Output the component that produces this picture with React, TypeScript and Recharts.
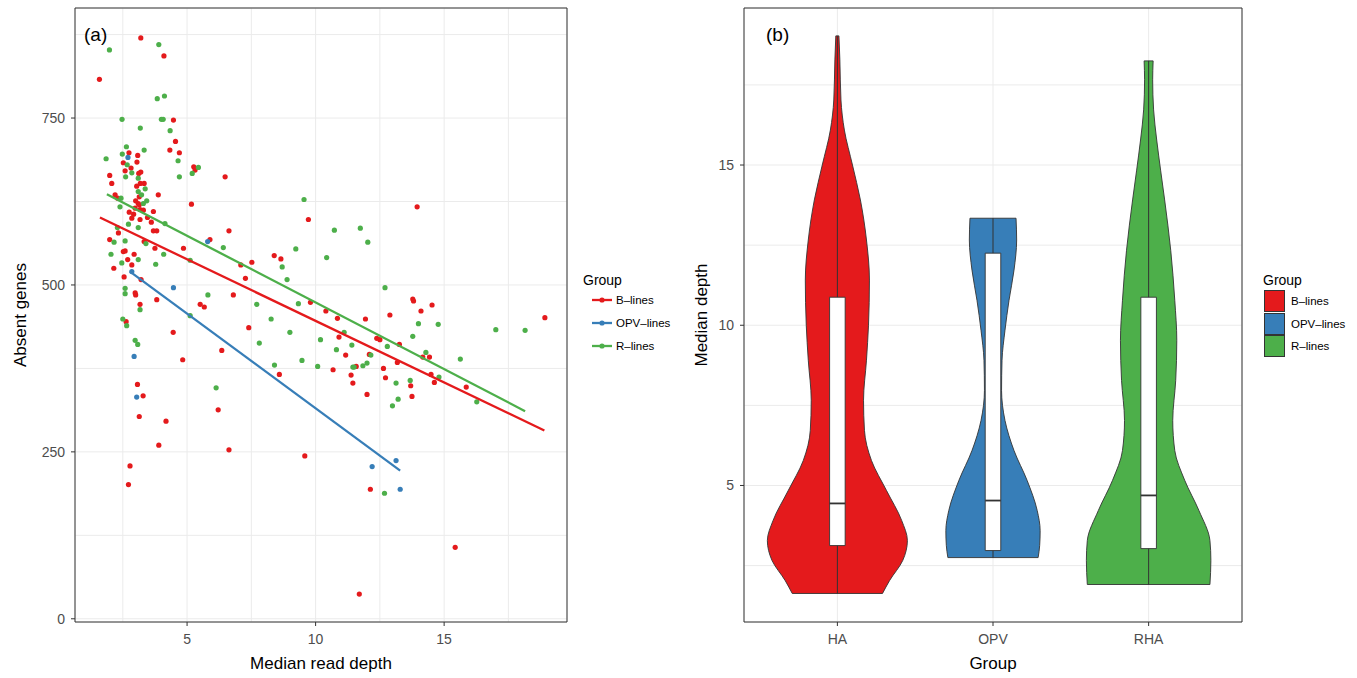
import React from "react";
import {
  ScatterChart,
  Scatter,
  ComposedChart,
  Area,
  XAxis,
  YAxis,
  CartesianGrid,
  ReferenceArea,
  ReferenceLine,
  Label,
} from "recharts";

const FONT = '"Liberation Sans", Arial, Helvetica, sans-serif';
const RED = "#E41A1C";
const BLUE = "#377EB8";
const GREEN = "#4DAF4A";
const INK = "#333333";
const TICK_TEXT = "#4D4D4D";
const GRID = "#EBEBEB";

// ---------- panel (a): absent genes vs median read depth ----------
// [median read depth, absent genes]
const bLines: [number, number][] = [
  [1.59, 808], [3.2, 870], [4.1, 843], [4.47, 747], [4.55, 715], [4.33, 702],
  [4.7, 698], [2.74, 698], [3.08, 694], [2.52, 683], [3.05, 684], [2.82, 675],
  [2.59, 671], [3.2, 669], [3.12, 667], [5.26, 677], [5.31, 672], [1.99, 664],
  [2.07, 652], [3.18, 652], [3.04, 648], [3.33, 652], [3.14, 632], [3.88, 635],
  [2.2, 635], [2.3, 630], [3.0, 626], [3.1, 622], [3.14, 620], [5.17, 621],
  [2.98, 615], [3.17, 613], [3.3, 612], [2.75, 609], [3.69, 610], [2.92, 606],
  [3.46, 601], [2.85, 600], [3.17, 598], [3.61, 594], [3.69, 581], [3.82, 581],
  [2.33, 578], [1.99, 568], [3.33, 565], [3.75, 555], [4.86, 555], [5.89, 568],
  [2.52, 550], [2.59, 551], [2.94, 546], [2.69, 538], [2.85, 530], [2.15, 525],
  [2.55, 512], [3.21, 508], [2.98, 488], [3.0, 485], [3.82, 478], [3.17, 471],
  [5.51, 471], [5.67, 467], [2.63, 445], [4.46, 429], [6.35, 402], [4.83, 388],
  [3.07, 351], [3.29, 334], [6.21, 313], [3.14, 303], [4.18, 296], [3.9, 260],
  [2.78, 229], [2.72, 201], [6.48, 662], [9.72, 598], [6.63, 581], [8.39, 544],
  [8.65, 539], [7.52, 534], [7.09, 530], [7.27, 510], [6.8, 485], [9.8, 474],
  [12.89, 455], [10.4, 461], [10.85, 450], [11.94, 449], [7.4, 436], [10.91, 422],
  [12.38, 420], [12.5, 418], [13.26, 411], [11.17, 395], [12.09, 396], [8.59, 366],
  [10.68, 373], [11.58, 378], [11.38, 365], [11.45, 353], [12.64, 375], [12.72, 361],
  [12.0, 336], [6.63, 253], [9.58, 244], [13.95, 617], [13.78, 479], [13.81, 476],
  [14.53, 470], [14.1, 461], [18.92, 451], [14.17, 392], [14.43, 392], [13.18, 384],
  [13.7, 349], [14.49, 366], [14.62, 354], [15.86, 347], [13.75, 333], [15.43, 107],
  [12.13, 194], [11.7, 37],
];

const opvLines: [number, number][] = [
  [2.7, 691], [5.8, 565], [2.85, 520], [4.47, 496], [2.94, 393], [3.04, 332],
  [12.2, 228], [13.13, 237], [13.29, 194],
];

const rLines: [number, number][] = [
  [3.9, 860], [1.98, 852], [3.84, 779], [4.12, 783], [2.47, 748], [4.0, 748],
  [4.07, 748], [3.18, 735], [4.34, 731], [2.64, 707], [3.33, 702], [2.48, 696],
  [1.85, 689], [2.67, 680], [4.65, 686], [2.85, 668], [5.44, 676], [5.2, 667],
  [2.61, 662], [3.1, 660], [3.37, 644], [3.1, 640], [3.23, 635], [4.7, 662],
  [2.43, 630], [3.3, 622], [3.43, 626], [2.39, 617], [2.72, 591], [4.14, 592],
  [3.1, 586], [2.29, 586], [2.16, 564], [2.59, 566], [3.4, 562], [6.41, 556],
  [2.04, 546], [4.09, 546], [3.1, 538], [2.46, 533], [3.78, 531], [5.12, 537],
  [2.59, 495], [2.59, 487], [5.81, 485], [3.17, 463], [2.5, 449], [5.12, 454],
  [2.65, 439], [2.98, 417], [3.08, 411], [6.13, 346], [9.55, 628], [10.73, 582],
  [11.74, 585], [12.03, 564], [9.23, 554], [10.43, 541], [8.7, 527], [8.89, 508],
  [7.71, 471], [9.33, 472], [12.7, 496], [8.27, 449], [9.0, 429], [7.81, 413],
  [11.11, 429], [10.19, 418], [11.41, 410], [12.79, 408], [10.81, 403], [12.15, 395],
  [9.47, 387], [8.4, 380], [10.08, 378], [11.45, 377], [11.5, 377], [11.84, 379],
  [12.0, 383], [13.13, 353], [13.21, 329], [12.99, 319], [14.0, 442], [14.77, 441],
  [13.78, 423], [17.01, 433], [18.15, 432], [14.29, 399], [15.63, 389], [13.68, 357],
  [14.8, 362], [16.27, 325], [12.68, 188],
];

const bFit: [number, number][] = [[1.61, 601], [18.9, 282]];
const opvFit: [number, number][] = [[2.78, 520], [13.29, 222]];
const rFit: [number, number][] = [[1.88, 636], [18.15, 311]];

const readDomain = [0.64, 19.78];
const absentDomain = [-4.8, 914.8];
const readTicks = [2.5, 5, 7.5, 10, 12.5, 15, 17.5];
const absentTicks = [0, 125, 250, 375, 500, 625, 750, 875];
const readLabels = [5, 10, 15];
const absentLabels = [0, 250, 500, 750];

// ---------- panel (b): median depth by group ----------
const groups = ["HA", "OPV", "RHA"];
const groupColors = [RED, BLUE, GREEN];

// violin outlines: depth and half width (in group units)
const haDepth = [1.63, 2.03, 2.66, 3.28, 3.91, 4.84, 5.78, 6.72, 7.66, 8.91, 10.0, 11.41, 12.66, 13.91, 15.0, 16.09, 17.03, 18.28, 19.03];
const haHalf = [0.29, 0.335, 0.42, 0.45, 0.413, 0.316, 0.219, 0.174, 0.168, 0.187, 0.2, 0.206, 0.187, 0.148, 0.097, 0.045, 0.023, 0.016, 0.01];
const opvDepth = [2.75, 3.13, 3.59, 4.22, 5.16, 6.09, 7.03, 7.97, 8.91, 9.84, 10.78, 11.72, 12.66, 13.34];
const opvHalf = [0.29, 0.3, 0.303, 0.284, 0.219, 0.135, 0.077, 0.055, 0.058, 0.077, 0.103, 0.135, 0.152, 0.148];
const rhaDepth = [1.91, 2.66, 3.28, 4.22, 5.16, 6.09, 7.03, 8.28, 9.53, 10.78, 12.34, 13.91, 14.84, 15.78, 16.72, 17.66, 18.25];
const rhaHalf = [0.394, 0.4, 0.394, 0.323, 0.232, 0.168, 0.155, 0.174, 0.181, 0.168, 0.142, 0.103, 0.077, 0.052, 0.032, 0.026, 0.029];

const boxLow = [3.125, 2.97, 3.03];
const boxMid = [4.44, 4.53, 4.69];
const boxHigh = [10.875, 12.25, 10.875];
const BOX_HALF = 0.05;

const depthDomain = [0.74, 19.9];
const depthTicks = [2.5, 5, 7.5, 10, 12.5, 15, 17.5];
const depthLabels = [5, 10, 15];

const TICK = 4;

const toPts = (arr: [number, number][]) => arr.map(([x, y]) => ({ x, y }));

function BottomTick({ x, y, payload, labels, format }: any) {
  const v = payload.value;
  if (!labels.includes(v)) return <g />;
  const top = y - 8 - TICK;
  return (
    <g>
      <line x1={x} x2={x} y1={top} y2={top + TICK} stroke={INK} strokeWidth={1} />
      <text x={x} y={y} dy="0.71em" textAnchor="middle" fill={TICK_TEXT} fontSize={14} fontFamily={FONT}>
        {format ? format(v) : v}
      </text>
    </g>
  );
}

function LeftTick({ x, y, payload, labels }: any) {
  const v = payload.value;
  if (!labels.includes(v)) return <g />;
  const edge = x + 6 + TICK;
  return (
    <g>
      <line x1={edge - TICK} x2={edge} y1={y} y2={y} stroke={INK} strokeWidth={1} />
      <text x={x} y={y} dy="0.355em" textAnchor="end" fill={TICK_TEXT} fontSize={14} fontFamily={FONT}>
        {v}
      </text>
    </g>
  );
}

const dot = (color: string) => (p: any) => <circle cx={p.cx} cy={p.cy} r={2.6} fill={color} />;
const noDot = () => <g />;

function ScatterPanel() {
  return (
    <ScatterChart width={680} height={678} margin={{ top: 8, right: 113, bottom: 0, left: 0 }}>
      <CartesianGrid stroke={GRID} strokeWidth={1} />
      <XAxis
        type="number"
        dataKey="x"
        domain={readDomain}
        allowDataOverflow
        ticks={readTicks}
        interval={0}
        height={56}
        axisLine={false}
        tickLine={false}
        tickSize={TICK}
        tickMargin={8}
        tick={(p: any) => <BottomTick {...p} labels={readLabels} />}
      >
        <Label value="Median read depth" position="insideBottom" offset={9} fill="#000" fontSize={17} fontFamily={FONT} />
      </XAxis>
      <YAxis
        type="number"
        dataKey="y"
        domain={absentDomain}
        allowDataOverflow
        ticks={absentTicks}
        interval={0}
        width={75}
        axisLine={false}
        tickLine={false}
        tickSize={TICK}
        tickMargin={6}
        tick={(p: any) => <LeftTick {...p} labels={absentLabels} />}
      >
        <Label
          value="Absent genes"
          angle={-90}
          position="insideLeft"
          offset={20}
          fill="#000"
          fontSize={17}
          fontFamily={FONT}
          style={{ textAnchor: "middle" }}
        />
      </YAxis>
      <Scatter data={toPts(bLines)} shape={dot(RED)} isAnimationActive={false} />
      <Scatter data={toPts(rLines)} shape={dot(GREEN)} isAnimationActive={false} />
      <Scatter data={toPts(opvLines)} shape={dot(BLUE)} isAnimationActive={false} />
      <Scatter data={toPts(bFit)} line={{ stroke: RED, strokeWidth: 2.3 }} shape={noDot} isAnimationActive={false} />
      <Scatter data={toPts(opvFit)} line={{ stroke: BLUE, strokeWidth: 2.3 }} shape={noDot} isAnimationActive={false} />
      <Scatter data={toPts(rFit)} line={{ stroke: GREEN, strokeWidth: 2.3 }} shape={noDot} isAnimationActive={false} />
      <ReferenceArea
        x1={readDomain[0]}
        x2={readDomain[1]}
        y1={absentDomain[0]}
        y2={absentDomain[1]}
        fill="none"
        stroke={INK}
        strokeWidth={1}
        ifOverflow="visible"
      />
    </ScatterChart>
  );
}

const violins = [
  { depth: haDepth, half: haHalf },
  { depth: opvDepth, half: opvHalf },
  { depth: rhaDepth, half: rhaHalf },
].map((v, i) => {
  const c = i + 1;
  return {
    c,
    color: groupColors[i],
    rows: v.depth.map((d, k) => ({ depth: d, span: [c - v.half[k], c + v.half[k]] })),
    bottom: { d: v.depth[0], h: v.half[0] },
    top: { d: v.depth[v.depth.length - 1], h: v.half[v.half.length - 1] },
  };
});

function ViolinPanel() {
  return (
    <ComposedChart layout="vertical" width={677} height={678} margin={{ top: 8, right: 115, bottom: 0, left: 0 }}>
      <CartesianGrid stroke={GRID} strokeWidth={1} />
      <XAxis
        type="number"
        domain={[0.4, 3.6]}
        allowDataOverflow
        ticks={[1, 2, 3]}
        interval={0}
        height={56}
        axisLine={false}
        tickLine={false}
        tickSize={TICK}
        tickMargin={8}
        tick={(p: any) => <BottomTick {...p} labels={[1, 2, 3]} format={(v: number) => groups[v - 1]} />}
      >
        <Label value="Group" position="insideBottom" offset={9} fill="#000" fontSize={17} fontFamily={FONT} />
      </XAxis>
      <YAxis
        type="number"
        dataKey="depth"
        domain={depthDomain}
        allowDataOverflow
        reversed
        ticks={depthTicks}
        interval={0}
        width={64}
        axisLine={false}
        tickLine={false}
        tickSize={TICK}
        tickMargin={6}
        tick={(p: any) => <LeftTick {...p} labels={depthLabels} />}
      >
        <Label
          value="Median depth"
          angle={-90}
          position="insideLeft"
          offset={21}
          fill="#000"
          fontSize={17}
          fontFamily={FONT}
          style={{ textAnchor: "middle" }}
        />
      </YAxis>
      {violins.map((v) => (
        <Area
          key={`v${v.c}`}
          data={v.rows}
          dataKey="span"
          type="monotone"
          fill={v.color}
          fillOpacity={1}
          stroke={INK}
          strokeWidth={0.9}
          connectNulls
          dot={false}
          activeDot={false}
          isAnimationActive={false}
        />
      ))}
      {violins.map((v) => (
        <ReferenceLine
          key={`b${v.c}`}
          segment={[{ x: v.c - v.bottom.h, y: v.bottom.d }, { x: v.c + v.bottom.h, y: v.bottom.d }]}
          stroke={INK}
          strokeWidth={0.9}
          zIndex={1400}
        />
      ))}
      {violins.map((v) => (
        <ReferenceLine
          key={`t${v.c}`}
          segment={[{ x: v.c - v.top.h, y: v.top.d }, { x: v.c + v.top.h, y: v.top.d }]}
          stroke={INK}
          strokeWidth={0.9}
          zIndex={1400}
        />
      ))}
      {violins.map((v) => (
        <ReferenceLine
          key={`w${v.c}`}
          segment={[{ x: v.c, y: v.bottom.d }, { x: v.c, y: v.top.d }]}
          stroke={INK}
          strokeWidth={1}
          zIndex={1400}
        />
      ))}
      {groups.map((g, i) => (
        <ReferenceArea
          key={`box${g}`}
          x1={i + 1 - BOX_HALF}
          x2={i + 1 + BOX_HALF}
          y1={boxLow[i]}
          y2={boxHigh[i]}
          fill="#FFFFFF"
          fillOpacity={1}
          stroke={INK}
          strokeWidth={0.9}
          zIndex={1500}
        />
      ))}
      {groups.map((g, i) => (
        <ReferenceLine
          key={`m${g}`}
          segment={[{ x: i + 1 - BOX_HALF, y: boxMid[i] }, { x: i + 1 + BOX_HALF, y: boxMid[i] }]}
          stroke={INK}
          strokeWidth={1.8}
          zIndex={1600}
        />
      ))}
      <ReferenceArea
        x1={0.4}
        x2={3.6}
        y1={depthDomain[0]}
        y2={depthDomain[1]}
        fill="none"
        stroke={INK}
        strokeWidth={1}
        ifOverflow="visible"
        zIndex={1700}
      />
    </ComposedChart>
  );
}

function LineKey({ color }: { color: string }) {
  return (
    <svg width={20} height={10} style={{ display: "block" }}>
      <line x1={0} x2={20} y1={5} y2={5} stroke={color} strokeWidth={2.3} />
      <circle cx={10} cy={5} r={2.6} fill={color} />
    </svg>
  );
}

const legendLabels = ["B\u2013lines", "OPV\u2013lines", "R\u2013lines"];

export default function App() {
  return (
    <div style={{ position: "absolute", left: 0, top: 0, width: 1357, height: 678, background: "#fff", fontFamily: FONT }}>
      <div style={{ position: "absolute", left: 0, top: 0 }}>
        <ScatterPanel />
      </div>
      <div style={{ position: "absolute", left: 680, top: 0 }}>
        <ViolinPanel />
      </div>

      <div style={{ position: "absolute", left: 84, top: 24, fontSize: 19, lineHeight: "22px", color: "#000" }}>(a)</div>
      <div style={{ position: "absolute", left: 766, top: 24, fontSize: 19, lineHeight: "22px", color: "#000" }}>(b)</div>

      {/* legend (a) */}
      <div style={{ position: "absolute", left: 583, top: 270 }}>
        <div style={{ fontSize: 14, lineHeight: "20px", color: "#000" }}>Group</div>
        {legendLabels.map((t, i) => (
          <div key={t} style={{ position: "absolute", left: 9, top: 24 + i * 23, display: "flex", alignItems: "center", height: 12 }}>
            <LineKey color={groupColors[i]} />
            <span style={{ marginLeft: 4, fontSize: 11.5, color: "#000", whiteSpace: "nowrap" }}>{t}</span>
          </div>
        ))}
      </div>

      {/* legend (b) */}
      <div style={{ position: "absolute", left: 1263, top: 270 }}>
        <div style={{ fontSize: 14, lineHeight: "20px", color: "#000" }}>Group</div>
        {legendLabels.map((t, i) => (
          <div key={t} style={{ position: "absolute", left: 1, top: 20 + i * 22.7, display: "flex", alignItems: "center", height: 22 }}>
            <div style={{ width: 19, height: 20, background: groupColors[i], border: `1px solid ${INK}`, boxSizing: "content-box" }} />
            <span style={{ marginLeft: 6, fontSize: 11.5, color: "#000", whiteSpace: "nowrap" }}>{t}</span>
          </div>
        ))}
      </div>
    </div>
  );
}
